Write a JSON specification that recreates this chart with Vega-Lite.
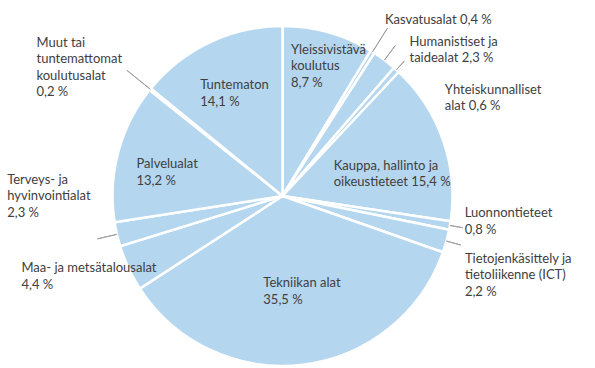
{
  "$schema": "https://vega.github.io/schema/vega-lite/v6.json",
  "autosize": {"type": "none"},
  "width": 565,
  "height": 344,
  "padding": {"left": 0, "top": 24, "right": 30, "bottom": 0},
  "background": "white",
  "config": {
    "view": {"stroke": null},
    "text": {"font": "Lato", "fontSize": 13, "fill": "#404040", "lineBreak": "\n", "lineHeight": 16.5, "align": "left", "baseline": "middle"}
  },
  "data": {
    "values": [
      {"idx": 1, "cat": "Yleissivistävä koulutus", "value": 8.7, "label": "Yleissivistävä\nkoulutus\n8,7 %"},
      {"idx": 2, "cat": "Kasvatusalat", "value": 0.4, "label": "Kasvatusalat 0,4 %"},
      {"idx": 3, "cat": "Humanistiset ja taidealat", "value": 2.3, "label": "Humanistiset ja\ntaidealat 2,3 %"},
      {"idx": 4, "cat": "Yhteiskunnalliset alat", "value": 0.6, "label": "Yhteiskunnalliset\nalat 0,6 %"},
      {"idx": 5, "cat": "Kauppa, hallinto ja oikeustieteet", "value": 15.4, "label": "Kauppa, hallinto ja\noikeustieteet 15,4 %"},
      {"idx": 6, "cat": "Luonnontieteet", "value": 0.8, "label": "Luonnontieteet\n0,8 %"},
      {"idx": 7, "cat": "Tietojenkäsittely ja tietoliikenne (ICT)", "value": 2.2, "label": "Tietojenkäsittely ja\ntietoliikenne (ICT)\n2,2 %"},
      {"idx": 8, "cat": "Tekniikan alat", "value": 35.5, "label": "Tekniikan alat\n35,5 %"},
      {"idx": 9, "cat": "Maa- ja metsätalousalat", "value": 4.4, "label": "Maa- ja metsätalousalat\n4,4 %"},
      {"idx": 10, "cat": "Terveys- ja hyvinvointialat", "value": 2.3, "label": "Terveys- ja\nhyvinvointialat\n2,3 %"},
      {"idx": 11, "cat": "Palvelualat", "value": 13.2, "label": "Palvelualat\n13,2 %"},
      {"idx": 12, "cat": "Muut tai tuntemattomat koulutusalat", "value": 0.2, "label": "Muut tai\ntuntemattomat\nkoulutusalat\n0,2 %"},
      {"idx": 13, "cat": "Tuntematon", "value": 14.1, "label": "Tuntematon\n14,1 %"}
    ]
  },
  "encoding": {
    "theta": {"field": "value", "type": "quantitative", "stack": true},
    "order": {"field": "idx", "type": "quantitative"},
    "detail": {"field": "cat", "type": "nominal"}
  },
  "layer": [
    {"mark": {"type": "arc", "outerRadius": 170, "fill": "#b4d6ef", "stroke": "white", "strokeWidth": 2.5}},
    {"mark": {"type": "arc", "innerRadius": 170, "outerRadius": 198, "padAngle": 3, "filled": false, "stroke": "#a0a0a0", "strokeWidth": 1},
     "encoding": {"strokeOpacity": {"condition": {"test": "datum.idx === 2", "value": 1}, "value": 0}}},
    {"mark": {"type": "arc", "innerRadius": 170, "outerRadius": 188, "padAngle": 3, "filled": false, "stroke": "#a0a0a0", "strokeWidth": 1},
     "encoding": {"strokeOpacity": {"condition": {"test": "datum.idx === 3", "value": 1}, "value": 0}}},
    {"mark": {"type": "arc", "innerRadius": 170, "outerRadius": 182, "padAngle": 3, "filled": false, "stroke": "#a0a0a0", "strokeWidth": 1},
     "encoding": {"strokeOpacity": {"condition": {"test": "datum.idx === 4", "value": 1}, "value": 0}}},
    {"mark": {"type": "arc", "innerRadius": 170, "outerRadius": 183, "padAngle": 3, "filled": false, "stroke": "#a0a0a0", "strokeWidth": 1},
     "encoding": {"strokeOpacity": {"condition": {"test": "datum.idx === 6", "value": 1}, "value": 0}}},
    {"mark": {"type": "arc", "innerRadius": 170, "outerRadius": 185, "padAngle": 3, "filled": false, "stroke": "#a0a0a0", "strokeWidth": 1},
     "encoding": {"strokeOpacity": {"condition": {"test": "datum.idx === 7", "value": 1}, "value": 0}}},
    {"mark": {"type": "arc", "innerRadius": 170, "outerRadius": 190, "padAngle": 3, "filled": false, "stroke": "#a0a0a0", "strokeWidth": 1},
     "encoding": {"strokeOpacity": {"condition": {"test": "datum.idx === 10", "value": 1}, "value": 0}}},
    {"mark": {"type": "arc", "innerRadius": 170, "outerRadius": 200, "padAngle": 3, "filled": false, "stroke": "#a0a0a0", "strokeWidth": 1},
     "encoding": {"strokeOpacity": {"condition": {"test": "datum.idx === 12", "value": 1}, "value": 0}}},
    {"mark": {"type": "text", "radius": 135, "dx": -28, "dy": -16.5},
     "encoding": {"text": {"condition": {"test": "datum.idx === 1", "field": "label"}, "value": ""}}},
    {"mark": {"type": "text", "radius": 200, "dx": -3.5, "dy": -6.4},
     "encoding": {"text": {"condition": {"test": "datum.idx === 2", "field": "label"}, "value": ""}}},
    {"mark": {"type": "text", "radius": 190, "dx": 13, "dy": -2.25},
     "encoding": {"text": {"condition": {"test": "datum.idx === 3", "field": "label"}, "value": ""}}},
    {"mark": {"type": "text", "radius": 190, "dx": 35, "dy": 34.75},
     "encoding": {"text": {"condition": {"test": "datum.idx === 4", "field": "label"}, "value": ""}}},
    {"mark": {"type": "text", "radius": 105, "dx": -48, "dy": 4.25},
     "encoding": {"text": {"condition": {"test": "datum.idx === 5", "field": "label"}, "value": ""}}},
    {"mark": {"type": "text", "radius": 185, "dx": 0, "dy": -14.65},
     "encoding": {"text": {"condition": {"test": "datum.idx === 6", "field": "label"}, "value": ""}}},
    {"mark": {"type": "text", "radius": 185, "dx": 4, "dy": 13.5},
     "encoding": {"text": {"condition": {"test": "datum.idx === 7", "field": "label"}, "value": ""}}},
    {"mark": {"type": "text", "radius": 95, "dx": -30.5, "dy": -6.85},
     "encoding": {"text": {"condition": {"test": "datum.idx === 8", "field": "label"}, "value": ""}}},
    {"mark": {"type": "text", "radius": 180, "dx": -98, "dy": -3.85},
     "encoding": {"text": {"condition": {"test": "datum.idx === 9", "field": "label"}, "value": ""}}},
    {"mark": {"type": "text", "radius": 180, "dx": -100, "dy": -57.1},
     "encoding": {"text": {"condition": {"test": "datum.idx === 10", "field": "label"}, "value": ""}}},
    {"mark": {"type": "text", "radius": 120, "dx": -30, "dy": -1.25},
     "encoding": {"text": {"condition": {"test": "datum.idx === 11", "field": "label"}, "value": ""}}},
    {"mark": {"type": "text", "radius": 180, "dx": -106, "dy": -40.15},
     "encoding": {"text": {"condition": {"test": "datum.idx === 12", "field": "label"}, "value": ""}}},
    {"mark": {"type": "text", "radius": 115, "dx": -33, "dy": -6.65},
     "encoding": {"text": {"condition": {"test": "datum.idx === 13", "field": "label"}, "value": ""}}}
  ]
}
